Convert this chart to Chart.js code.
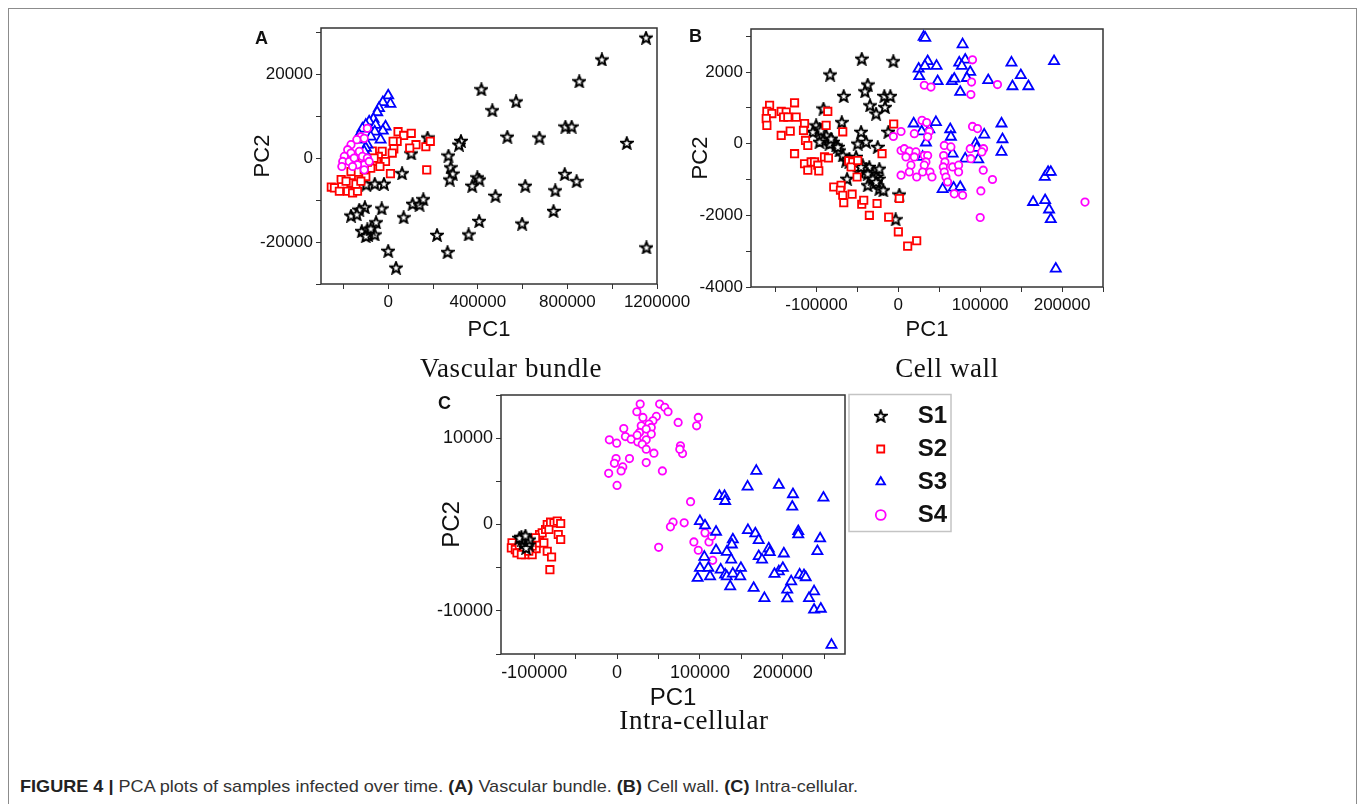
<!DOCTYPE html>
<html>
<head>
<meta charset="utf-8">
<script src="https://cdn.jsdelivr.net/npm/chart.js@4.4.1/dist/chart.umd.min.js"></script>
<style>
  html,body{margin:0;padding:0;background:#fff;}
  body{width:1357px;height:804px;overflow:hidden;position:relative;font-family:'Liberation Sans',Arial,sans-serif;}
  .frame{position:absolute;left:8px;top:8px;width:1349px;height:830px;border:1.5px solid #8c8c8c;box-sizing:border-box;}
  canvas{position:absolute;}
  .t{position:absolute;white-space:nowrap;line-height:1;transform:translate(-50%,-50%);}
  .ttl{font-family:'Liberation Serif','Times New Roman',serif;font-size:27px;color:#111;letter-spacing:0.6px;}
  .let{font-weight:bold;font-size:18px;color:#111;transform:none;}
  #cap{position:absolute;left:20px;top:778px;font-size:17px;color:#333;white-space:nowrap;line-height:1;transform-origin:0 0;}
  #cap b{color:#222;}
</style>
</head>
<body>
<div class="frame"></div>
<canvas id="cA" width="475" height="345" style="left:230px;top:0px;"></canvas>
<canvas id="cB" width="460" height="345" style="left:680px;top:0px;"></canvas>
<canvas id="cC" width="530" height="345" style="left:430px;top:380px;"></canvas>

<div class="t let" style="left:255px;top:29px;">A</div>
<div class="t let" style="left:689px;top:27px;">B</div>
<div class="t let" style="left:438px;top:394px;">C</div>

<div class="t ttl" style="left:511px;top:368px;">Vascular bundle</div>
<div class="t ttl" style="left:947px;top:368px;">Cell wall</div>
<div class="t ttl" style="left:694px;top:720px;">Intra-cellular</div>

<div id="cap"><b>FIGURE 4 |</b> PCA plots of samples infected over time. <b>(A)</b> Vascular bundle. <b>(B)</b> Cell wall. <b>(C)</b> Intra-cellular.</div>

<script>
// ---------------- DATA ----------------
const SERIES = ['S1', 'S2', 'S3', 'S4'];

// Panel A: Vascular bundle  [PC1, PC2]
const A_S1 = [[1151000,28700],[954000,23500],[853000,18300],[416000,16400],[465000,11400],[571000,13500],[791000,7500],[819000,7500],[1065000,3600],[532000,5100],[675000,4900],[325000,4100],[316000,3200],[176000,4900],[103000,1100],[269000,600],[279000,-2200],[288000,-3700],[275000,-5100],[62000,-3600],[398000,-4600],[407000,-5100],[375000,-6600],[788000,-3800],[841000,-5500],[746000,-7700],[612000,-6600],[479000,-9000],[738000,-12600],[406000,-15000],[598000,-15600],[359000,-18200],[218000,-18300],[265000,-22400],[0,-22100],[35000,-26100],[1153000,-21300],[-98000,-6300],[-60000,-6100],[-19000,-6100],[69000,-14100],[-29000,-12000],[109000,-10900],[140000,-11100],[157000,-9800],[-104000,-11700],[-129000,-12300],[-166000,-13700],[-140000,-13400],[-54000,-15300],[-118000,-17400],[-93000,-17000],[-90000,-18300],[-60000,-18200],[-100000,-18600],[-78000,-16800]];
const A_S2 = [[44000,6300],[69000,5400],[103000,5900],[40000,4000],[22000,4000],[124000,3200],[96000,2400],[25000,2200],[18000,1200],[168000,2700],[188000,4000],[172000,-2800],[10000,-3700],[-27000,1600],[-44000,400],[-52000,-800],[-12000,-800],[-37000,-2000],[-71000,1700],[-78000,-2400],[-100000,-4400],[-107000,-2800],[-132000,-5100],[-166000,-3200],[-166000,-5900],[-210000,-5100],[-254000,-6900],[-240000,-7100],[-218000,-7900],[-181000,-7900],[-159000,-8300],[-137000,-7900],[-144000,-6200],[-188000,-5500],[-93000,-1000],[-115000,0],[-63000,0],[-122000,-5500]];
const A_S3 = [[0,14900],[10000,12900],[-24000,13300],[-41000,11900],[-49000,10900],[-66000,9300],[-85000,8700],[-100000,7900],[-115000,7000],[-129000,5500],[-137000,4400],[-12000,7500],[-24000,6500],[-34000,4400],[-56000,7900],[-60000,6300],[-78000,5100],[-93000,3200],[-100000,2400],[-107000,1600]];
const A_S4 = [[-93000,7100],[-122000,5100],[-140000,4400],[-107000,4700],[-166000,3200],[-181000,2000],[-166000,1200],[-196000,400],[-203000,-800],[-207000,-2000],[-174000,-800],[-152000,0],[-129000,1600],[-115000,400],[-93000,0],[-107000,-1600],[-107000,-2800],[-137000,-1600],[-159000,-2000],[-85000,-800]];
const A_X_TICKS = [-200000,0,200000,400000,600000,800000,1000000,1200000];
const A_X_LABELS = [0,400000,800000,1200000];
const A_Y_TICKS = [-30000,-20000,-10000,0,10000,20000,30000];
const A_Y_LABELS = [-20000,0,20000];
const A_RANGE = {xmin:-300000, xmax:1200000, ymin:-30000, ymax:31000};

// Panel B: Cell wall
const B_S1 = [[-44700,2370],[-6100,2300],[-83300,1930],[-37400,1650],[-40700,1460],[-66700,1330],[-17100,1330],[-9800,1330],[-34600,1070],[-16300,1020],[-91500,980],[-27200,840],[-69100,600],[-12200,330],[-45500,330],[-100400,510],[-96300,420],[-104500,330],[-88200,230],[-92300,90],[-80100,50],[-76000,-50],[-72000,-190],[-67900,-330],[-63800,-470],[-59800,-510],[-49600,0],[-39400,50],[-25200,-90],[-51600,-370],[-43500,-600],[-39400,-700],[-35400,-650],[-47600,-790],[-31300,-840],[-23200,-700],[-24000,-980],[-27200,-930],[-37400,-1160],[-23200,-1260],[-18300,-1300],[-62600,-980],[1200,-1420],[-3300,-2110],[-84100,0],[-96300,50],[-94300,370],[-82100,140],[-74000,-90],[-59800,-420],[-45500,-650],[-37400,-840],[-31300,-980],[-27200,-1070]];
const B_S2 = [[-157300,1070],[-160600,900],[-154500,840],[-161400,700],[-160600,510],[-143100,900],[-137000,880],[-140200,740],[-135000,740],[-126800,1140],[-124800,740],[-132100,350],[-143100,230],[-114600,560],[-115900,370],[-113400,90],[-110600,-50],[-86200,900],[-88200,510],[-67900,330],[-5700,550],[-126800,-280],[-114600,-560],[-110600,-740],[-106500,-510],[-102400,-510],[-98400,-600],[-97200,-760],[-90200,-370],[-85400,-400],[-60600,-480],[-55700,-510],[-57700,-650],[-49600,-470],[-50400,-930],[-19900,-280],[-78900,-1210],[-69900,-1160],[-70700,-1300],[-67900,-1440],[-66700,-1650],[-56500,-1410],[-44700,-1690],[-42300,-1580],[-26000,-1670],[-35400,-2000],[-11800,-2050],[1200,-1530],[0,-2460],[11400,-2860],[22400,-2710]];
const B_S3 = [[30900,2980],[32900,2950],[78500,2770],[24800,2090],[35800,2300],[46700,2170],[32500,2170],[74400,2260],[81700,2340],[77600,2170],[87800,2000],[83700,1830],[48000,1740],[25600,1880],[65400,1740],[68300,1810],[75600,1440],[109800,1770],[138200,2260],[149600,1910],[139400,1600],[158900,1600],[190200,2300],[18700,560],[45900,600],[37800,400],[28500,340],[63400,400],[64200,190],[33700,30],[29700,-370],[94300,0],[95900,-120],[104900,250],[126000,560],[127200,120],[126000,-230],[97600,-440],[81700,-420],[66300,-280],[54100,-1270],[67500,-1230],[75600,-1210],[164600,-1630],[179300,-1580],[184100,-1840],[186200,-2110],[178900,-930],[182900,-790],[186200,-790],[192300,-3490]];
const B_S4 = [[90600,2340],[31700,1630],[39800,1580],[121100,1650],[89400,1720],[88600,1370],[28900,650],[34600,590],[3300,340],[-6100,200],[19500,280],[37800,340],[35800,190],[90600,480],[96700,420],[3300,-190],[7300,-140],[13400,-210],[9300,-370],[21500,-230],[19500,-370],[31700,-330],[35800,-330],[33700,-510],[31700,-600],[15400,-600],[13400,-790],[3300,-880],[22400,-930],[29700,-790],[38600,-790],[41100,-930],[56100,-50],[64200,-90],[55300,-330],[56900,-510],[54900,-650],[56100,-790],[58100,-930],[60200,-1070],[66300,-650],[73600,-600],[68300,-1400],[78500,-1440],[73600,-790],[87800,-140],[88600,-420],[104100,-140],[102000,-230],[103700,-740],[115000,-1000],[100800,-1320],[100000,-2060],[228000,-1630]];
const B_X_TICKS = [-150000,-100000,-50000,0,50000,100000,150000,200000,250000];
const B_X_LABELS = [-100000,0,100000,200000];
const B_Y_TICKS = [-4000,-3000,-2000,-1000,0,1000,2000,3000];
const B_Y_LABELS = [-4000,-2000,0,2000];
const B_RANGE = {xmin:-180000, xmax:250000, ymin:-4000, ymax:3200};

// Panel C: Intra-cellular
const C_S1 = [[-115400,-1430],[-111300,-1550],[-108500,-1940],[-112600,-2130],[-106500,-2330],[-109700,-2710],[-114600,-1740],[-105700,-1740],[-117800,-1550],[-110500,-1280]];
const C_S2 = [[-126700,-2130],[-127500,-2710],[-122700,-2910],[-117800,-2440],[-112600,-2910],[-110500,-3490],[-102400,-3490],[-97600,-2790],[-96400,-2130],[-93500,-1160],[-90300,-970],[-86200,-580],[-84200,0],[-80200,270],[-76100,190],[-72100,390],[-68000,120],[-70900,-1160],[-68000,-1740],[-84200,-3100],[-79000,-3760],[-81000,-5230],[-88300,-2130],[-98400,-1550],[-102400,-2520],[-120700,-3290],[-115400,-3490],[-106500,-3100],[-82200,-580]];
const C_S3 = [[168000,6200],[157500,4380],[195200,4570],[212200,3490],[211400,2050],[249000,3100],[123500,3290],[129600,3290],[130400,2710],[100000,390],[106100,-120],[119400,-850],[157900,-660],[166800,-1050],[170900,-1820],[218600,-780],[218600,-1160],[245000,-1630],[105300,-3760],[100000,-5040],[110100,-5040],[97200,-6200],[112200,-6010],[119400,-2980],[132400,-3180],[139700,-1740],[138500,-2330],[137700,-4070],[125100,-5230],[130400,-5810],[132400,-6010],[139700,-5700],[149400,-5040],[148600,-6010],[136500,-7170],[164800,-7360],[170900,-3680],[174900,-4070],[177800,-8530],[183000,-2790],[184200,-3220],[195200,-5430],[200000,-5040],[201200,-3370],[189900,-5740],[210100,-6590],[205300,-7560],[205300,-8570],[220300,-5810],[225500,-5890],[227600,-6120],[237700,-7750],[231600,-8530],[241700,-3100],[237700,-9880],[245800,-9770],[258700,-13950]];
const C_S4 = [[27900,13950],[51400,13950],[57500,13570],[61500,13060],[47400,12520],[43300,12020],[23900,13060],[31200,12400],[38500,11630],[29200,11430],[41300,11240],[73700,11820],[98000,12400],[96000,11430],[8100,11120],[10100,10190],[17000,9880],[-9300,9810],[-400,9420],[27100,10660],[41300,10470],[35200,9810],[25100,9570],[30400,9300],[35200,8720],[44500,8260],[76500,9110],[79000,8220],[75700,8720],[15000,7640],[35200,7170],[54700,6200],[-1200,7640],[-3200,7090],[6900,6670],[4900,6200],[-10100,5930],[0,4530],[35200,11050],[24300,10350],[88700,2640],[67600,270],[64400,-270],[81000,190],[50200,-2640],[92700,-2020],[98000,-2980],[104900,-120],[106100,-970],[110900,-2020],[114200,-1360],[115400,-4150]];
const C_X_TICKS = [-100000,-50000,0,50000,100000,150000,200000,250000];
const C_X_LABELS = [-100000,0,100000,200000];
const C_Y_TICKS = [-15000,-10000,-5000,0,5000,10000,15000];
const C_Y_LABELS = [-10000,0,10000];
const C_RANGE = {xmin:-140000, xmax:275000, ymin:-15000, ymax:15000};

// ---------------- RENDERING ----------------
Chart.defaults.font.family = "'Liberation Sans', Arial, sans-serif";
Chart.defaults.color = '#111';

function makeStar() {
  const c = document.createElement('canvas');
  c.width = 14; c.height = 14;
  const g = c.getContext('2d');
  const cx = 7, cy = 7.5, R = 6, r = 2.6;
  g.beginPath();
  for (let i = 0; i < 10; i++) {
    const ang = -Math.PI / 2 + i * Math.PI / 5;
    const rad = (i % 2) ? r : R;
    g.lineTo(cx + rad * Math.cos(ang), cy + rad * Math.sin(ang));
  }
  g.closePath();
  g.fillStyle = '#fff'; g.fill();
  g.lineWidth = 2; g.strokeStyle = '#000'; g.lineJoin = 'miter';
  g.stroke();
  return c;
}
const STAR = makeStar();

const STYLES = {
  S1: {pointStyle: STAR, pointRadius: 5, borderColor: '#000000', backgroundColor: '#ffffff', borderWidth: 1.8},
  S2: {pointStyle: 'rect', pointRadius: 5.2, borderColor: '#ff0000', backgroundColor: '#ffffff', borderWidth: 1.8},
  S3: {pointStyle: 'triangle', pointRadius: 5.8, borderColor: '#0000ff', backgroundColor: '#ffffff', borderWidth: 1.8},
  S4: {pointStyle: 'circle', pointRadius: 3.7, borderColor: '#ff00ff', backgroundColor: '#ffffff', borderWidth: 1.8}
};

const framePlugin = {
  id: 'frame',
  beforeDatasetsDraw(chart) {
    const {ctx, chartArea: a} = chart;
    ctx.save();
    ctx.strokeStyle = '#333';
    ctx.lineWidth = 1.5;
    ctx.strokeRect(a.left, a.top, a.right - a.left, a.bottom - a.top);
    ctx.restore();
  }
};

function axis(horizontal, range, ticks, labels, axisSize, title, titleFont, titlePad, tickFont) {
  return {
    type: 'linear',
    position: horizontal ? 'bottom' : 'left',
    min: horizontal ? range.xmin : range.ymin,
    max: horizontal ? range.xmax : range.ymax,
    afterFit: s => { if (horizontal) s.height = axisSize; else s.width = axisSize; },
    afterBuildTicks: s => { s.ticks = ticks.map(v => ({value: v})); },
    ticks: {
      autoSkip: false, maxRotation: 0, minRotation: 0, padding: 3,
      font: {size: tickFont}, color: '#111',
      callback: v => labels.includes(v) ? String(v) : ''
    },
    grid: {display: true, drawOnChartArea: false, drawTicks: true, tickLength: 5, color: '#333', lineWidth: 1},
    border: {display: false},
    title: {display: true, text: title, font: {size: titleFont}, color: '#111', padding: titlePad}
  };
}

function datasets(series, orders) {
  return series.map((pts, i) => Object.assign({
    label: SERIES[i],
    data: pts.map(([x, y]) => ({x, y})),
    order: orders[i],
    clip: false
  }, STYLES[SERIES[i]]));
}

function makeChart(id, g) {
  return new Chart(document.getElementById(id), {
    type: 'scatter',
    data: {datasets: datasets(g.series, g.orders)},
    options: {
      responsive: false, animation: false, devicePixelRatio: 1, events: [],
      layout: {padding: {left: 0, top: g.padTop, right: g.padRight, bottom: 0}},
      plugins: g.legend ? {legend: g.legend, tooltip: {enabled: false}} : {legend: {display: false}, tooltip: {enabled: false}},
      scales: {
        x: axis(true, g.range, g.xTicks, g.xLabels, g.xAxisH, 'PC1', g.titleFont, {top: 0, bottom: g.xTitlePad}, g.tickFont),
        y: axis(false, g.range, g.yTicks, g.yLabels, g.yAxisW, 'PC2', g.titleFont, {top: g.yTitlePad, bottom: 0}, g.tickFont)
      }
    },
    plugins: [framePlugin].concat(g.extraPlugins || [])
  });
}

// Panel A
makeChart('cA', {
  series: [A_S1, A_S2, A_S3, A_S4], orders: [3, 2, 1, 0], range: A_RANGE,
  xTicks: A_X_TICKS, xLabels: A_X_LABELS, yTicks: A_Y_TICKS, yLabels: A_Y_LABELS,
  padTop: 28, padRight: 48, yAxisW: 91, xAxisH: 61, titleFont: 22, tickFont: 17,
  xTitlePad: 2, yTitlePad: 20
});

// Panel B
makeChart('cB', {
  series: [B_S1, B_S2, B_S3, B_S4], orders: [3, 2, 1, 0], range: B_RANGE,
  xTicks: B_X_TICKS, xLabels: B_X_LABELS, yTicks: B_Y_TICKS, yLabels: B_Y_LABELS,
  padTop: 29, padRight: 37, yAxisW: 71, xAxisH: 58, titleFont: 22, tickFont: 17,
  xTitlePad: 2, yTitlePad: 8
});

// Panel C with legend
const legendPlace = {
  id: 'legendPlace',
  afterLayout(chart) {
    const L = chart.legend;
    if (!L) return;
    L.left = 438.25; L.right = 517; L.top = 15; L.bottom = 215;
    L.width = L.right - L.left; L.height = L.bottom - L.top;
  },
  afterDraw(chart) {
    const ctx = chart.ctx;
    ctx.save();
    ctx.strokeStyle = '#c4c4c4';
    ctx.lineWidth = 1.5;
    ctx.strokeRect(419, 14.5, 102, 137);
    ctx.restore();
  }
};

makeChart('cC', {
  series: [C_S1, C_S2, C_S3, C_S4], orders: [0, 1, 2, 3], range: C_RANGE,
  xTicks: C_X_TICKS, xLabels: C_X_LABELS, yTicks: C_Y_TICKS, yLabels: C_Y_LABELS,
  padTop: 15, padRight: 115, yAxisW: 71, xAxisH: 71, titleFont: 24, tickFont: 18,
  xTitlePad: 12, yTitlePad: 8,
  legend: {
    display: true, position: 'chartArea', align: 'start',
    labels: {
      usePointStyle: true, boxWidth: 7, boxHeight: 7, padding: 9,
      textAlign: 'right', color: '#111', font: {size: 24, weight: 'bold'},
      sort: (a, b) => a.datasetIndex - b.datasetIndex
    }
  },
  extraPlugins: [legendPlace]
});

// caption width fit
const cap = document.getElementById('cap');
const cw = cap.getBoundingClientRect().width;
cap.style.transform = 'scaleX(' + (838 / cw) + ')';
</script>
</body>
</html>
